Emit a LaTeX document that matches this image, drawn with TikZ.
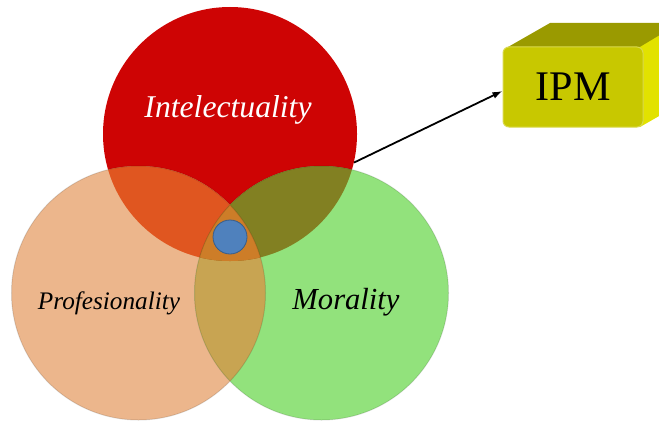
\documentclass[tikz,border=0pt]{standalone}
\usepackage{fontspec}
\setmainfont{Liberation Serif}
\usepackage{graphicx}
\usetikzlibrary{arrows.meta}
\definecolor{redc}{RGB}{206,4,4}
\definecolor{orangec}{RGB}{236,182,140}
\definecolor{greenc}{RGB}{146,226,124}
\definecolor{roc}{RGB}{224,86,32}
\definecolor{rgc}{RGB}{130,128,34}
\definecolor{ogc}{RGB}{200,164,82}
\definecolor{rogc}{RGB}{205,125,40}
\definecolor{bluec}{RGB}{79,129,189}
\definecolor{bluee}{RGB}{56,93,138}
\definecolor{boxfront}{RGB}{200,200,0}
\definecolor{boxtop}{RGB}{154,154,0}
\definecolor{boxside}{RGB}{226,226,0}
\tikzset{
  venn/.style={circle, minimum size=254bp, inner sep=0pt},
  lbl/.style={inner sep=0pt, font=\itshape},
  conn/.style={-{Latex[length=10bp,width=7bp]}, line width=1.8bp, black},
}
\begin{document}
\begin{tikzpicture}[x=1bp,y=1bp]
\useasboundingbox (0,0) rectangle (659,422);
\clip (0,0) rectangle (659,422);
% circle nodes
\node[venn] (red) at (230,288) {};
\node[venn] (orange) at (138.5,129) {};
\node[venn] (green) at (321.5,129) {};
% solo fills
\fill[redc] (red.center) circle (127bp);
\fill[orangec] (orange.center) circle (127bp);
\fill[greenc] (green.center) circle (127bp);
% overlaps
\begin{scope}
  \clip (orange.center) circle (127bp);
  \fill[ogc] (green.center) circle (127bp);
\end{scope}
\begin{scope}
  \clip (red.center) circle (127bp);
  \fill[roc] (orange.center) circle (127bp);
  \fill[rgc] (green.center) circle (127bp);
  \clip (orange.center) circle (127bp);
  \fill[rogc] (green.center) circle (127bp);
\end{scope}
% soft outlines
\draw[black, opacity=0.12, line width=1bp] (orange.center) circle (127bp) (green.center) circle (127bp);
\node[circle, minimum size=34bp, inner sep=0pt, fill=bluec, draw=bluee, line width=0.8bp] (dot) at (230,185) {};
% labels
\node[lbl, text=white] (tint) at (228,312) {\resizebox{167bp}{!}{Intelectuality}};
\node[lbl] (tprof) at (109,119) {\resizebox{142bp}{!}{Profesionality}};
\node[lbl] (tmor) at (346,120) {\resizebox{107bp}{!}{Morality}};
% box
\fill[boxtop] (508,375) -- (550,399) -- (700,399) -- (680,375) -- cycle;
\fill[boxside] (640,375) -- (680,399) -- (680,318) -- (640,295) -- cycle;
\node[draw=boxfront!70!white, line width=1bp, fill=boxfront, rounded corners=6bp,
      minimum width=140bp, minimum height=80bp, inner sep=0pt] (ipm) at (573,335)
      {\resizebox{75bp}{!}{IPM}};
% connector
\draw[conn] (red.-13) -- (ipm.west |- 0,331);
\end{tikzpicture}
\end{document}
